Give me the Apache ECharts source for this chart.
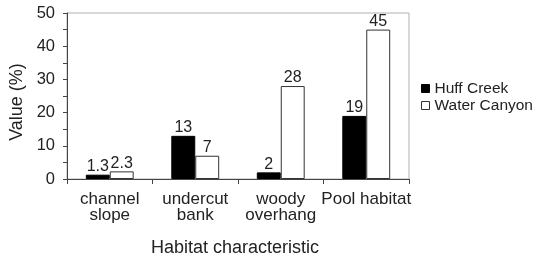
<!DOCTYPE html>
<html><head><meta charset="utf-8">
<script src="https://cdn.jsdelivr.net/npm/echarts@6/dist/echarts.min.js"></script>
<style>html,body{margin:0;padding:0;background:#fff}#c{width:535px;height:256px}</style>
</head><body><div id="c"></div>
<script>
var categories = ['channel\nslope', 'undercut\nbank', 'woody\noverhang', 'Pool habitat'];
var huffCreek = [1.3, 13, 2, 19];
var waterCanyon = [2.3, 7, 28, 45];
var seriesNames = ['Huff Creek', 'Water Canyon'];

var font = 'Liberation Sans, Arial, sans-serif';
var txt = '#222';
var chart = echarts.init(document.getElementById('c'));
chart.setOption({
  animation: false,
  textStyle: {fontFamily: font},
  grid: {left: 67, top: 13, right: 126, bottom: 77, show: true, borderColor: '#b0b0b0', borderWidth: 1,
         containLabel: false, outerBoundsMode: 'none'},
  legend: {
    orient: 'vertical', left: 421, top: 80, padding: 0, itemWidth: 8, itemHeight: 8, itemGap: 0,
    textStyle: {fontSize: 15.5, lineHeight: 17, color: txt, fontFamily: font},
    data: [
      {name: seriesNames[0], icon: 'rect', itemStyle: {color: '#000', borderColor: '#000', borderWidth: 1}},
      {name: seriesNames[1], icon: 'rect', itemStyle: {color: '#fff', borderColor: '#333', borderWidth: 1}}
    ]
  },
  xAxis: {
    type: 'category', data: categories,
    name: 'Habitat characteristic', nameLocation: 'middle', nameGap: 60,
    nameTextStyle: {fontSize: 18, color: txt, fontFamily: font, padding: [0, 6, 0, 0]},
    axisLine: {lineStyle: {color: '#444', width: 1}},
    axisTick: {show: true, length: 5, lineStyle: {color: '#444'}},
    axisLabel: {fontSize: 17, color: txt, margin: 12, lineHeight: 16, fontFamily: font, interval: 0}
  },
  yAxis: {
    type: 'value', min: 0, max: 50, interval: 10,
    name: 'Value (%)', nameLocation: 'middle', nameGap: 39, nameRotate: 90,
    nameTextStyle: {fontSize: 18, color: txt, fontFamily: font, padding: [0, 12, 0, 0]},
    axisLine: {show: true, lineStyle: {color: '#444', width: 1}},
    axisTick: {show: true, length: 4, lineStyle: {color: '#444'}},
    minorTick: {show: true, splitNumber: 2, length: 4, lineStyle: {color: '#444'}},
    splitLine: {show: false},
    axisLabel: {fontSize: 16.5, color: txt, margin: 12, fontFamily: font}
  },
  series: [
    {name: seriesNames[0], type: 'bar', data: huffCreek, barGap: '0%', barCategoryGap: '44%',
     itemStyle: {color: '#000', borderColor: '#000', borderWidth: 1},
     label: {show: true, position: 'top', distance: 0, lineHeight: 16, fontSize: 16, color: txt, fontFamily: font}},
    {name: seriesNames[1], type: 'bar', data: waterCanyon,
     itemStyle: {color: '#fff', borderColor: '#333', borderWidth: 1},
     label: {show: true, position: 'top', distance: 0, lineHeight: 16, fontSize: 16, color: txt, fontFamily: font}}
  ]
});
</script></body></html>
